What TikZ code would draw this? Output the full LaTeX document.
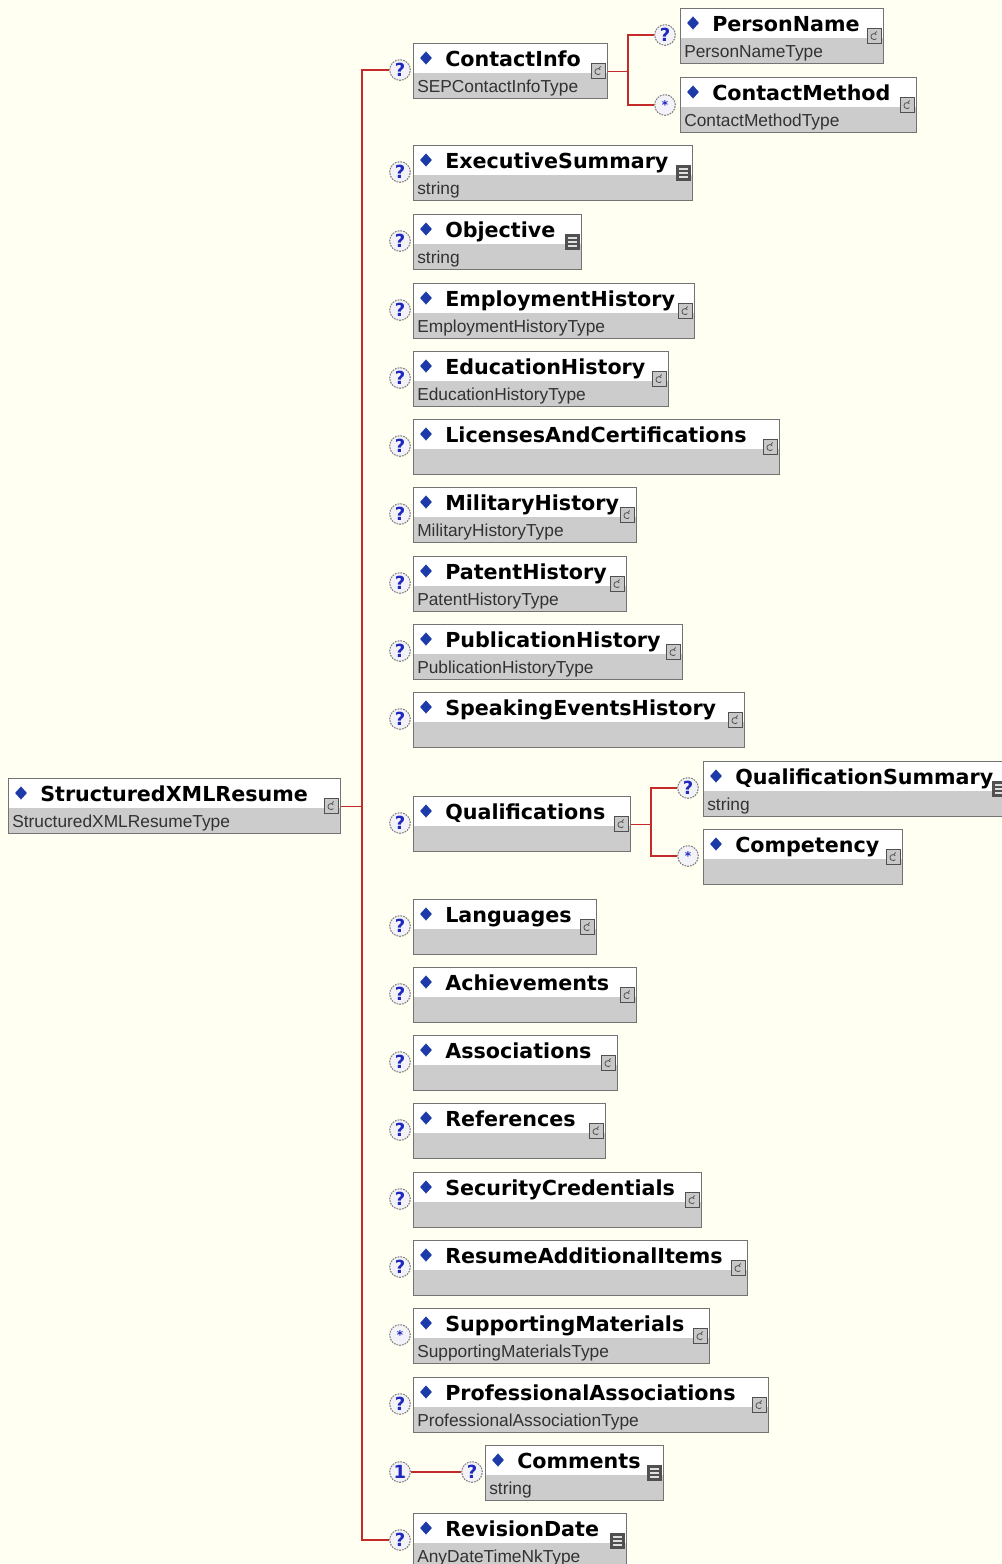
\documentclass[tikz,border=0pt]{standalone}
\usepackage{fontspec}
\newfontfamily\namefont{DejaVu Sans}
\newfontfamily\typefont{Liberation Sans}
\usetikzlibrary{calc,shapes.geometric}

\definecolor{paper}{RGB}{255,255,242}
\definecolor{wire}{RGB}{196,42,42}
\definecolor{frame}{RGB}{115,115,115}
\definecolor{band}{RGB}{204,204,204}
\definecolor{gem}{RGB}{28,58,168}
\definecolor{mark}{RGB}{30,40,190}
\definecolor{icondark}{RGB}{80,80,80}
\definecolor{iconlight}{RGB}{200,200,200}
\definecolor{badgefill}{RGB}{242,242,248}

\tikzset{
  x=0.75pt, y=-0.75pt,
  elembox/.style={rectangle, anchor=north west, draw=frame, line width=1.1pt,
    fill=white, minimum height=41.25pt, inner sep=0pt,
    path picture={\fill[band] ([yshift=19.5pt]path picture bounding box.south west)
      rectangle (path picture bounding box.south east);}},
  gemmark/.style={diamond, fill=gem, inner sep=0pt, minimum width=9pt, minimum height=10pt},
  nametext/.style={anchor=base west, inner sep=0pt,
    font=\namefont\bfseries\fontsize{15.5pt}{18pt}\selectfont},
  typetext/.style={anchor=base west, inner sep=0pt, text={rgb,255:red,50;green,50;blue,50},
    font=\typefont\fontsize{13pt}{15pt}\selectfont},
  cicon/.style={rectangle, draw=icondark, line width=0.5pt, fill=iconlight,
    minimum width=10.5pt, minimum height=11pt, inner sep=0pt,
    path picture={
      \draw[icondark, line width=0.6pt]
        ([shift={(1.4pt,1.0pt)}]path picture bounding box.center)
        arc[start angle=40, end angle=320, radius=2.3pt];
      \draw[icondark, line width=0.6pt]
        ([shift={(0.3pt,1.8pt)}]path picture bounding box.center) -- ++(1.3pt,1.6pt);}},
  sicon/.style={rectangle, fill=icondark, minimum width=11pt, minimum height=11.5pt, inner sep=0pt,
    path picture={\foreach \k in {-3,0,3}
      \draw[white!75!gray, line width=0.8pt]
        ([shift={(-3.5pt,\k pt)}]path picture bounding box.center) -- ++(7pt,0pt);}},
  badge/.style={circle, draw=gray, dash pattern=on 1.3pt off 0.8pt, line width=0.8pt,
    fill=badgefill, minimum size=15.5pt, inner sep=0pt, text=mark,
    font=\namefont\bfseries\fontsize{13.5pt}{13.5pt}\selectfont},
  manybadge/.style={badge, font=\namefont\bfseries\fontsize{9pt}{9pt}\selectfont},
  conn/.style={draw=wire, line width=1.1pt},
}

% element box: name, left, top, right, label, type, icon style
\newcommand\xelem[7]{%
  \node[elembox, minimum width={(#4-#2)*0.75pt}] (#1) at (#2,#3) {};
  \node[gemmark] (#1-d) at ($(#1.north west)+(13,15)$) {};
  \node[nametext] (#1-n) at ($(#1.north west)+(32,23.5)$) {#5};
  \if\relax\detokenize{#6}\relax\else
    \node[typetext] (#1-t) at ($(#1.north west)+(4,49)$) {#6};
  \fi
  \node[#7] (#1-i) at ($(#1.north east)+(-10,28)$) {};
}

\begin{document}
\begin{tikzpicture}
\useasboundingbox (0,0) rectangle (1002,1564);
\clip (0,0) rectangle (1002,1564);
\fill[paper] (0,0) rectangle (1002,1564);

% root element
\xelem{root}{8}{778}{340}{StructuredXMLResume}{StructuredXMLResumeType}{cicon}

% children of the root sequence
\xelem{ci}{413}{43}{607}{ContactInfo}{SEPContactInfoType}{cicon}
\xelem{pn}{680}{8}{883}{PersonName}{PersonNameType}{cicon}
\xelem{cm}{680}{77}{916}{ContactMethod}{ContactMethodType}{cicon}
\xelem{es}{413}{145}{692}{ExecutiveSummary}{string}{sicon}
\xelem{ob}{413}{214}{581}{Objective}{string}{sicon}
\xelem{eh}{413}{283}{694}{EmploymentHistory}{EmploymentHistoryType}{cicon}
\xelem{ed}{413}{351}{668}{EducationHistory}{EducationHistoryType}{cicon}
\xelem{lc}{413}{419}{779}{LicensesAndCertifications}{}{cicon}
\xelem{mh}{413}{487}{636}{MilitaryHistory}{MilitaryHistoryType}{cicon}
\xelem{ph}{413}{556}{626}{PatentHistory}{PatentHistoryType}{cicon}
\xelem{pu}{413}{624}{682}{PublicationHistory}{PublicationHistoryType}{cicon}
\xelem{se}{413}{692}{744}{SpeakingEventsHistory}{}{cicon}
\xelem{qu}{413}{796}{630}{Qualifications}{}{cicon}
\xelem{qs}{703}{761}{1008}{QualificationSummary}{string}{sicon}
\xelem{co}{703}{829}{902}{Competency}{}{cicon}
\xelem{la}{413}{899}{596}{Languages}{}{cicon}
\xelem{ac}{413}{967}{636}{Achievements}{}{cicon}
\xelem{as}{413}{1035}{617}{Associations}{}{cicon}
\xelem{re}{413}{1103}{605}{References}{}{cicon}
\xelem{sc}{413}{1172}{701}{SecurityCredentials}{}{cicon}
\xelem{ra}{413}{1240}{747}{ResumeAdditionalItems}{}{cicon}
\xelem{sm}{413}{1308}{709}{SupportingMaterials}{SupportingMaterialsType}{cicon}
\xelem{pa}{413}{1377}{768}{ProfessionalAssociations}{ProfessionalAssociationType}{cicon}
\xelem{cmt}{485}{1445}{663}{Comments}{string}{sicon}
\xelem{rd}{413}{1513}{626}{RevisionDate}{AnyDateTimeNkType}{sicon}

% occurrence badges
\node[badge] (b-ci) at (400,70) {?};
\node[badge] (b-pn) at (665,35) {?};
\node[manybadge] (b-cm) at (665,105) {*};
\node[badge] (b-es) at (400,172) {?};
\node[badge] (b-ob) at (400,241) {?};
\node[badge] (b-eh) at (400,310) {?};
\node[badge] (b-ed) at (400,378) {?};
\node[badge] (b-lc) at (400,446) {?};
\node[badge] (b-mh) at (400,514) {?};
\node[badge] (b-ph) at (400,583) {?};
\node[badge] (b-pu) at (400,651) {?};
\node[badge] (b-se) at (400,719) {?};
\node[badge] (b-qu) at (400,823) {?};
\node[badge] (b-qs) at (688,788) {?};
\node[manybadge] (b-co) at (688,856) {*};
\node[badge] (b-la) at (400,926) {?};
\node[badge] (b-ac) at (400,994) {?};
\node[badge] (b-as) at (400,1062) {?};
\node[badge] (b-re) at (400,1130) {?};
\node[badge] (b-sc) at (400,1199) {?};
\node[badge] (b-ra) at (400,1267) {?};
\node[manybadge] (b-sm) at (400,1335) {*};
\node[badge] (b-pa) at (400,1404) {?};
\node[badge] (b-one) at (400,1472) {1};
\node[badge] (b-cmt) at (472,1472) {?};
\node[badge] (b-rd) at (400,1540) {?};

% sequence wiring
\coordinate (bus) at (362,806);
\draw[conn] (b-ci.west) -| (bus) |- (b-rd.west);
\draw[conn] (root.east) -- (root.east -| bus);

\coordinate (ci-fork) at (628,70);
\draw[conn] (ci.east) -- (ci.east -| ci-fork);
\draw[conn] (b-pn.west) -| (ci-fork) |- (b-cm.west);

\coordinate (qu-fork) at (651,823);
\draw[conn] (qu.east) -- (qu.east -| qu-fork);
\draw[conn] (b-qs.west) -| (qu-fork) |- (b-co.west);

\draw[conn] (b-one.east) -- (b-cmt.west);
\end{tikzpicture}
\end{document}
